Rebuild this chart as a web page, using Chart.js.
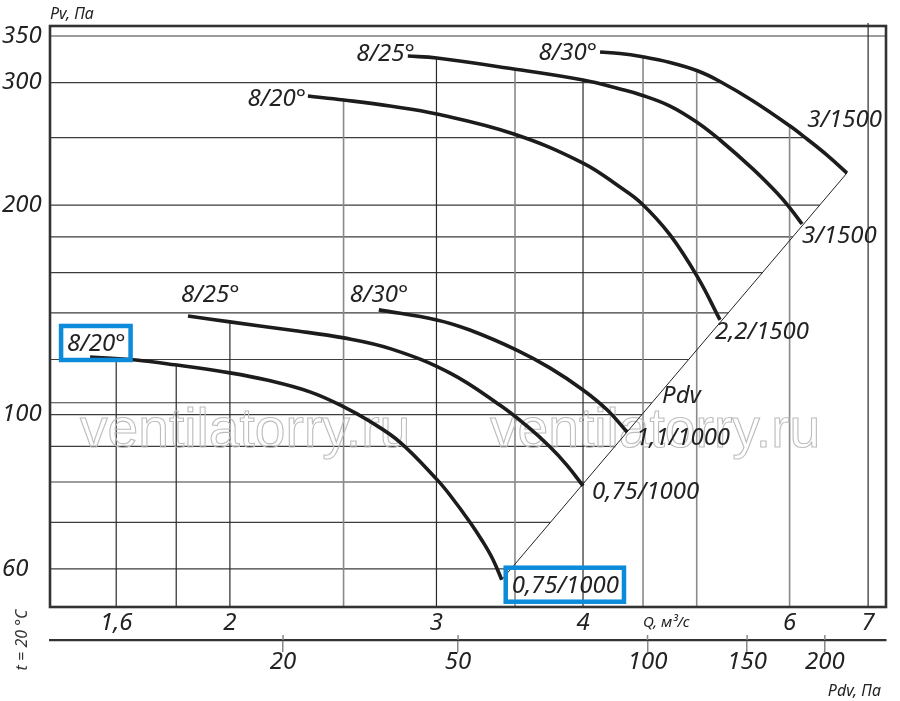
<!DOCTYPE html>
<html><head><meta charset="utf-8">
<script src="https://cdn.jsdelivr.net/npm/chart.js@4/dist/chart.umd.min.js"></script>
<style>html,body{margin:0;padding:0;background:#fff;}#wrap{width:900px;height:701px;}</style>
</head><body><div id="wrap"><canvas id="c" width="900" height="701"></canvas></div>
<script>
// ---- data ----
// lower group (1000 rpm): Q [m3/s], Pv [Pa]
const qA20 = [1.520,1.663,1.795,2.000,2.151,2.340,2.501,2.632,2.792,3.002,3.079,3.203,3.285,3.350,3.410];
const pA20 = [121.0,119.8,117.9,114.8,112.1,107.8,102.6,97.8,91.3,80.7,76.7,70.1,65.7,62.0,57.9];
const qA25 = [1.842,2.000,2.250,2.501,2.748,3.079,3.397,3.582,3.748,3.875,4.000];
const pA25 = [138.6,135.9,132.3,128.9,124.2,114.8,103.2,96.3,89.9,84.6,79.0];
const qA30 = [2.679,3.002,3.203,3.512,3.748,4.000,4.193,4.361];
const pA30 = [141.4,136.8,132.3,123.8,116.7,108.5,101.6,94.4];
// upper group (1500 rpm)
const qB20 = [2.331,2.501,2.738,3.002,3.492,4.000,4.301,4.483,4.745,5.013,5.234];
const pB20 = [287.0,283.2,277.6,270.4,253.1,229.9,212.3,201.4,181.2,157.2,136.8];
const qB25 = [2.836,3.002,3.492,4.000,4.301,4.483,4.745,5.013,5.234,5.585,5.854,6.005,6.148];
const pB25 = [327.6,325.4,313.8,302.5,293.7,288.0,277.6,262.5,248.1,225.3,208.2,198.1,187.9];
const qB30 = [4.136,4.301,4.483,4.745,5.013,5.234,5.585,6.005,6.209,6.457,6.715];
const pB30 = [331.9,330.3,327.0,320.6,311.7,301.1,282.3,259.8,248.9,236.0,222.4];
// dynamic pressure line Pdv
const pdvLineQ = [3.410, 6.715];
const pdvLineP = [57.9, 222.4];
// curve texts
const bladeLabels = ['8/20°','8/25°','8/30°','8/20°','8/25°','8/30°'];
const motorLabels = ['0,75/1000','0,75/1000','1,1/1000','2,2/1500','3/1500','3/1500'];
// axes
const qMin = 1.405, qMax = 7.25;
const pvMin = 52.9, pvMax = 361.8;
const qTicks  = [1.6,1.8,2,2.5,3,3.5,4,4.5,5,6,7];
const qLabels = ['1,6','','2','','3','','4','','','6','7'];
const pvTicks  = [60,70,80,90,100,104,120,140,160,180,200,250,300,350];
const pvLabels = ['60','','','','100','','','','','','200','','300','350'];
const pdvTicks = ['20','50','100','150','200'];
const pdvTickQ = [2.22,3.13,4.54,5.52,6.43];

// ---- styling ----
const FONT = "'Noto Sans', 'DejaVu Sans', sans-serif";
const INK = '#222';
const BLUE = '#0b8bd9';
const darkQ = [1.6,1.8,2,3,4,7];

function pts(q, p){ return q.map((v,i)=>({x:v, y:p[i]})); }
function curve(q, p, i, lab){
  return {
    data: pts(q,p), borderColor:'#1c1c1c', borderWidth:3.6, pointRadius:0,
    tension:0.4, fill:false, borderCapStyle:'butt',
    startText: bladeLabels[i], endText: motorLabels[i], lab: lab
  };
}
const datasets = [
  curve(qA20,pA20,0,{s:[-23,-14,'left',true], e:[10,5,'left',true]}),
  curve(qA25,pA25,1,{s:[-7,-22,'left'], e:[9,5,'left']}),
  curve(qA30,pA30,2,{s:[-29,-16,'left'], e:[9,4,'left']}),
  curve(qB20,pB20,3,{s:[-2,1,'right'], e:[-5,11,'left']}),
  curve(qB25,pB25,4,{s:[7,-4,'right'], e:[0,10,'left']}),
  curve(qB30,pB30,5,{s:[-3,-1,'right'], e:[35,-55,'right']}),
  { data: pts(pdvLineQ,pdvLineP), borderColor:'#222', borderWidth:1, pointRadius:0, tension:0, isPdv:true }
];

function polyOf(meta){
  const p = meta.data, out = [];
  for (let i=0;i<p.length;i++){
    const a = p[i];
    if (i===0){ out.push([a.x,a.y]); continue; }
    const b = p[i-1];
    if (b.cp2x!==undefined && a.cp1x!==undefined && !isNaN(b.cp2x)){
      for (let s=1;s<=20;s++){
        const t=s/20, m=1-t;
        out.push([m*m*m*b.x+3*m*m*t*b.cp2x+3*m*t*t*a.cp1x+t*t*t*a.x,
                  m*m*m*b.y+3*m*m*t*b.cp2y+3*m*t*t*a.cp1y+t*t*t*a.y]);
      }
    } else out.push([a.x,a.y]);
  }
  return out;
}

function drawText(ctx, text, x, cy, align, box, size){
  size = size || 24;
  ctx.font = 'italic ' + size + 'px ' + FONT;
  ctx.fillStyle = INK; ctx.textAlign = align; ctx.textBaseline = 'alphabetic';
  ctx.fillText(text, x, cy + size*0.355);
  if (box){
    const w = ctx.measureText(text).width;
    const left = align==='left' ? x : (align==='right' ? x-w : x-w/2);
    ctx.save(); ctx.strokeStyle = BLUE; ctx.lineWidth = 4.5;
    ctx.strokeRect(left-6, cy-17, w+11, 34); ctx.restore();
  }
}

const gridPlugin = {
  id:'gridPlugin',
  beforeDatasetsDraw(chart){
    const ctx = chart.ctx, a = chart.chartArea;
    const xs = chart.scales.x, ys = chart.scales.y;
    const polys = chart.data.datasets.map((d,i)=>polyOf(chart.getDatasetMeta(i)));
    ctx.save();
    // horizontal lines: from left axis to rightmost crossing
    ctx.strokeStyle = '#3c3c3c'; ctx.lineWidth = 1.2;
    pvTicks.forEach(v=>{
      const y = ys.getPixelForValue(v);
      let xe = null;
      polys.forEach(pl=>{
        for (let k=1;k<pl.length;k++){
          const [x1,y1]=pl[k-1],[x2,y2]=pl[k];
          if ((y1-y)*(y2-y)<=0 && y1!==y2){
            const xi = x1+(y-y1)*(x2-x1)/(y2-y1);
            if (xe===null || xi>xe) xe = xi;
          }
        }
      });
      if (xe===null) xe = a.right;
      ctx.beginPath(); ctx.moveTo(a.left,y); ctx.lineTo(xe,y); ctx.stroke();
    });
    // vertical lines: from bottom up to topmost crossing
    qTicks.forEach(v=>{
      const x = xs.getPixelForValue(v);
      let yt = null;
      polys.forEach(pl=>{
        for (let k=1;k<pl.length;k++){
          const [x1,y1]=pl[k-1],[x2,y2]=pl[k];
          if ((x1-x)*(x2-x)<=0 && x1!==x2){
            const yi = y1+(x-x1)*(y2-y1)/(x2-x1);
            if (yt===null || yi<yt) yt = yi;
          }
        }
      });
      if (yt===null) yt = a.top - 3;
      ctx.strokeStyle = darkQ.includes(v) ? '#2a2a2a' : '#8a8a8a';
      ctx.lineWidth = darkQ.includes(v) ? 1.2 : 1.6;
      ctx.beginPath(); ctx.moveTo(x,a.bottom); ctx.lineTo(x,yt); ctx.stroke();
    });
    // watermark
    ctx.font = '56px "Liberation Sans", Arial, sans-serif';
    const wm = 'ventilatorry.ru';
    const sc = 330/ctx.measureText(wm).width;
    ctx.font = (56*sc).toFixed(1)+'px "Liberation Sans", Arial, sans-serif';
    ctx.strokeStyle = '#bdbdbd'; ctx.lineWidth = 1.1; ctx.textAlign='left'; ctx.textBaseline='alphabetic';
    ctx.strokeText(wm, a.left+30, a.top+421);
    ctx.strokeText(wm, a.left+440, a.top+421);
    // frame
    ctx.strokeStyle = '#333'; ctx.lineWidth = 2.6;
    ctx.strokeRect(a.left, a.top, a.right-a.left, a.bottom-a.top);
    ctx.restore();
  },
  afterDatasetsDraw(chart){
    const ctx = chart.ctx, a = chart.chartArea;
    ctx.save();
    chart.data.datasets.forEach((d,i)=>{
      const meta = chart.getDatasetMeta(i);
      const p = meta.data;
      if (d.isPdv){
        const t = 0.45;
        const x = p[0].x + t*(p[1].x-p[0].x), y = p[0].y + t*(p[1].y-p[0].y);
        drawText(ctx, 'Pdv', x+5, y-2, 'left', false);
        return;
      }
      const f = p[0], l = p[p.length-1];
      drawText(ctx, d.startText, f.x+d.lab.s[0], f.y+d.lab.s[1], d.lab.s[2], d.lab.s[3]);
      drawText(ctx, d.endText, l.x+d.lab.e[0], l.y+d.lab.e[1], d.lab.e[2], d.lab.e[3]);
    });
    // upward stubs of the Pdv axis ticks
    const x2 = chart.scales.x2;
    ctx.strokeStyle = '#888'; ctx.lineWidth = 1.5;
    x2.ticks.forEach(t=>{
      const x = x2.getPixelForValue(t.value);
      ctx.beginPath(); ctx.moveTo(x, x2.top-5); ctx.lineTo(x, x2.top); ctx.stroke();
    });
    // axis captions
    drawText(ctx, 'Pv, Па', a.left, a.top-12.5, 'left', false, 16);
    drawText(ctx, 'Pdv, Па', a.right-5, a.bottom+83, 'right', false, 16);
    drawText(ctx, 'Q, м³/с', chart.scales.x.getPixelForValue(4.5), a.bottom+15, 'left', false, 15);
    ctx.save();
    ctx.translate(22, a.bottom+33); ctx.rotate(-Math.PI/2);
    ctx.font = 'italic 16px ' + FONT; ctx.fillStyle = '#333';
    ctx.textAlign = 'center'; ctx.textBaseline = 'middle';
    ctx.fillText('t = 20 °C', 0, 0);
    ctx.restore();
    ctx.restore();
  }
};

const tickFont = {family: FONT, size: 24, style: 'italic'};
new Chart(document.getElementById('c'), {
  type: 'line',
  data: { datasets },
  options: {
    responsive:false, animation:false, devicePixelRatio:1,
    layout:{ padding:{left:2, right:14, top:26, bottom:0} },
    plugins:{ legend:{display:false}, tooltip:{enabled:false} },
    scales:{
      x:{ type:'logarithmic', position:'bottom', min:qMin, max:qMax,
          grid:{display:false}, border:{display:false},
          afterBuildTicks: s => { s.ticks = qTicks.map(v=>({value:v})); },
          afterFit: s => { s.height = 33; },
          ticks:{ autoSkip:false, maxRotation:0, padding:-6, color:INK, font:tickFont,
                  callback:(v,i)=>qLabels[i] } },
      x2:{ type:'logarithmic', position:'bottom', min:qMin, max:qMax,
          grid:{display:true, drawOnChartArea:false, drawTicks:true, tickLength:12, color:'#888', lineWidth:1.5},
          border:{display:true, color:'#333', width:2.2},
          afterBuildTicks: s => { s.ticks = pdvTickQ.map(v=>({value:v})); },
          afterFit: s => { s.height = 61; },
          ticks:{ autoSkip:false, maxRotation:0, padding:-4, color:INK, font:tickFont,
                  callback:(v,i)=>pdvTicks[i] } },
      y:{ type:'logarithmic', position:'left', min:pvMin, max:pvMax,
          grid:{display:false}, border:{display:false},
          afterBuildTicks: s => { s.ticks = pvTicks.map(v=>({value:v})); },
          afterFit: s => { s.width = 48; },
          ticks:{ autoSkip:false, crossAlign:'far', padding:0, color:INK, font:tickFont,
                  callback:(v,i)=>pvLabels[i] } }
    }
  },
  plugins:[gridPlugin]
});
</script>
</body></html>
